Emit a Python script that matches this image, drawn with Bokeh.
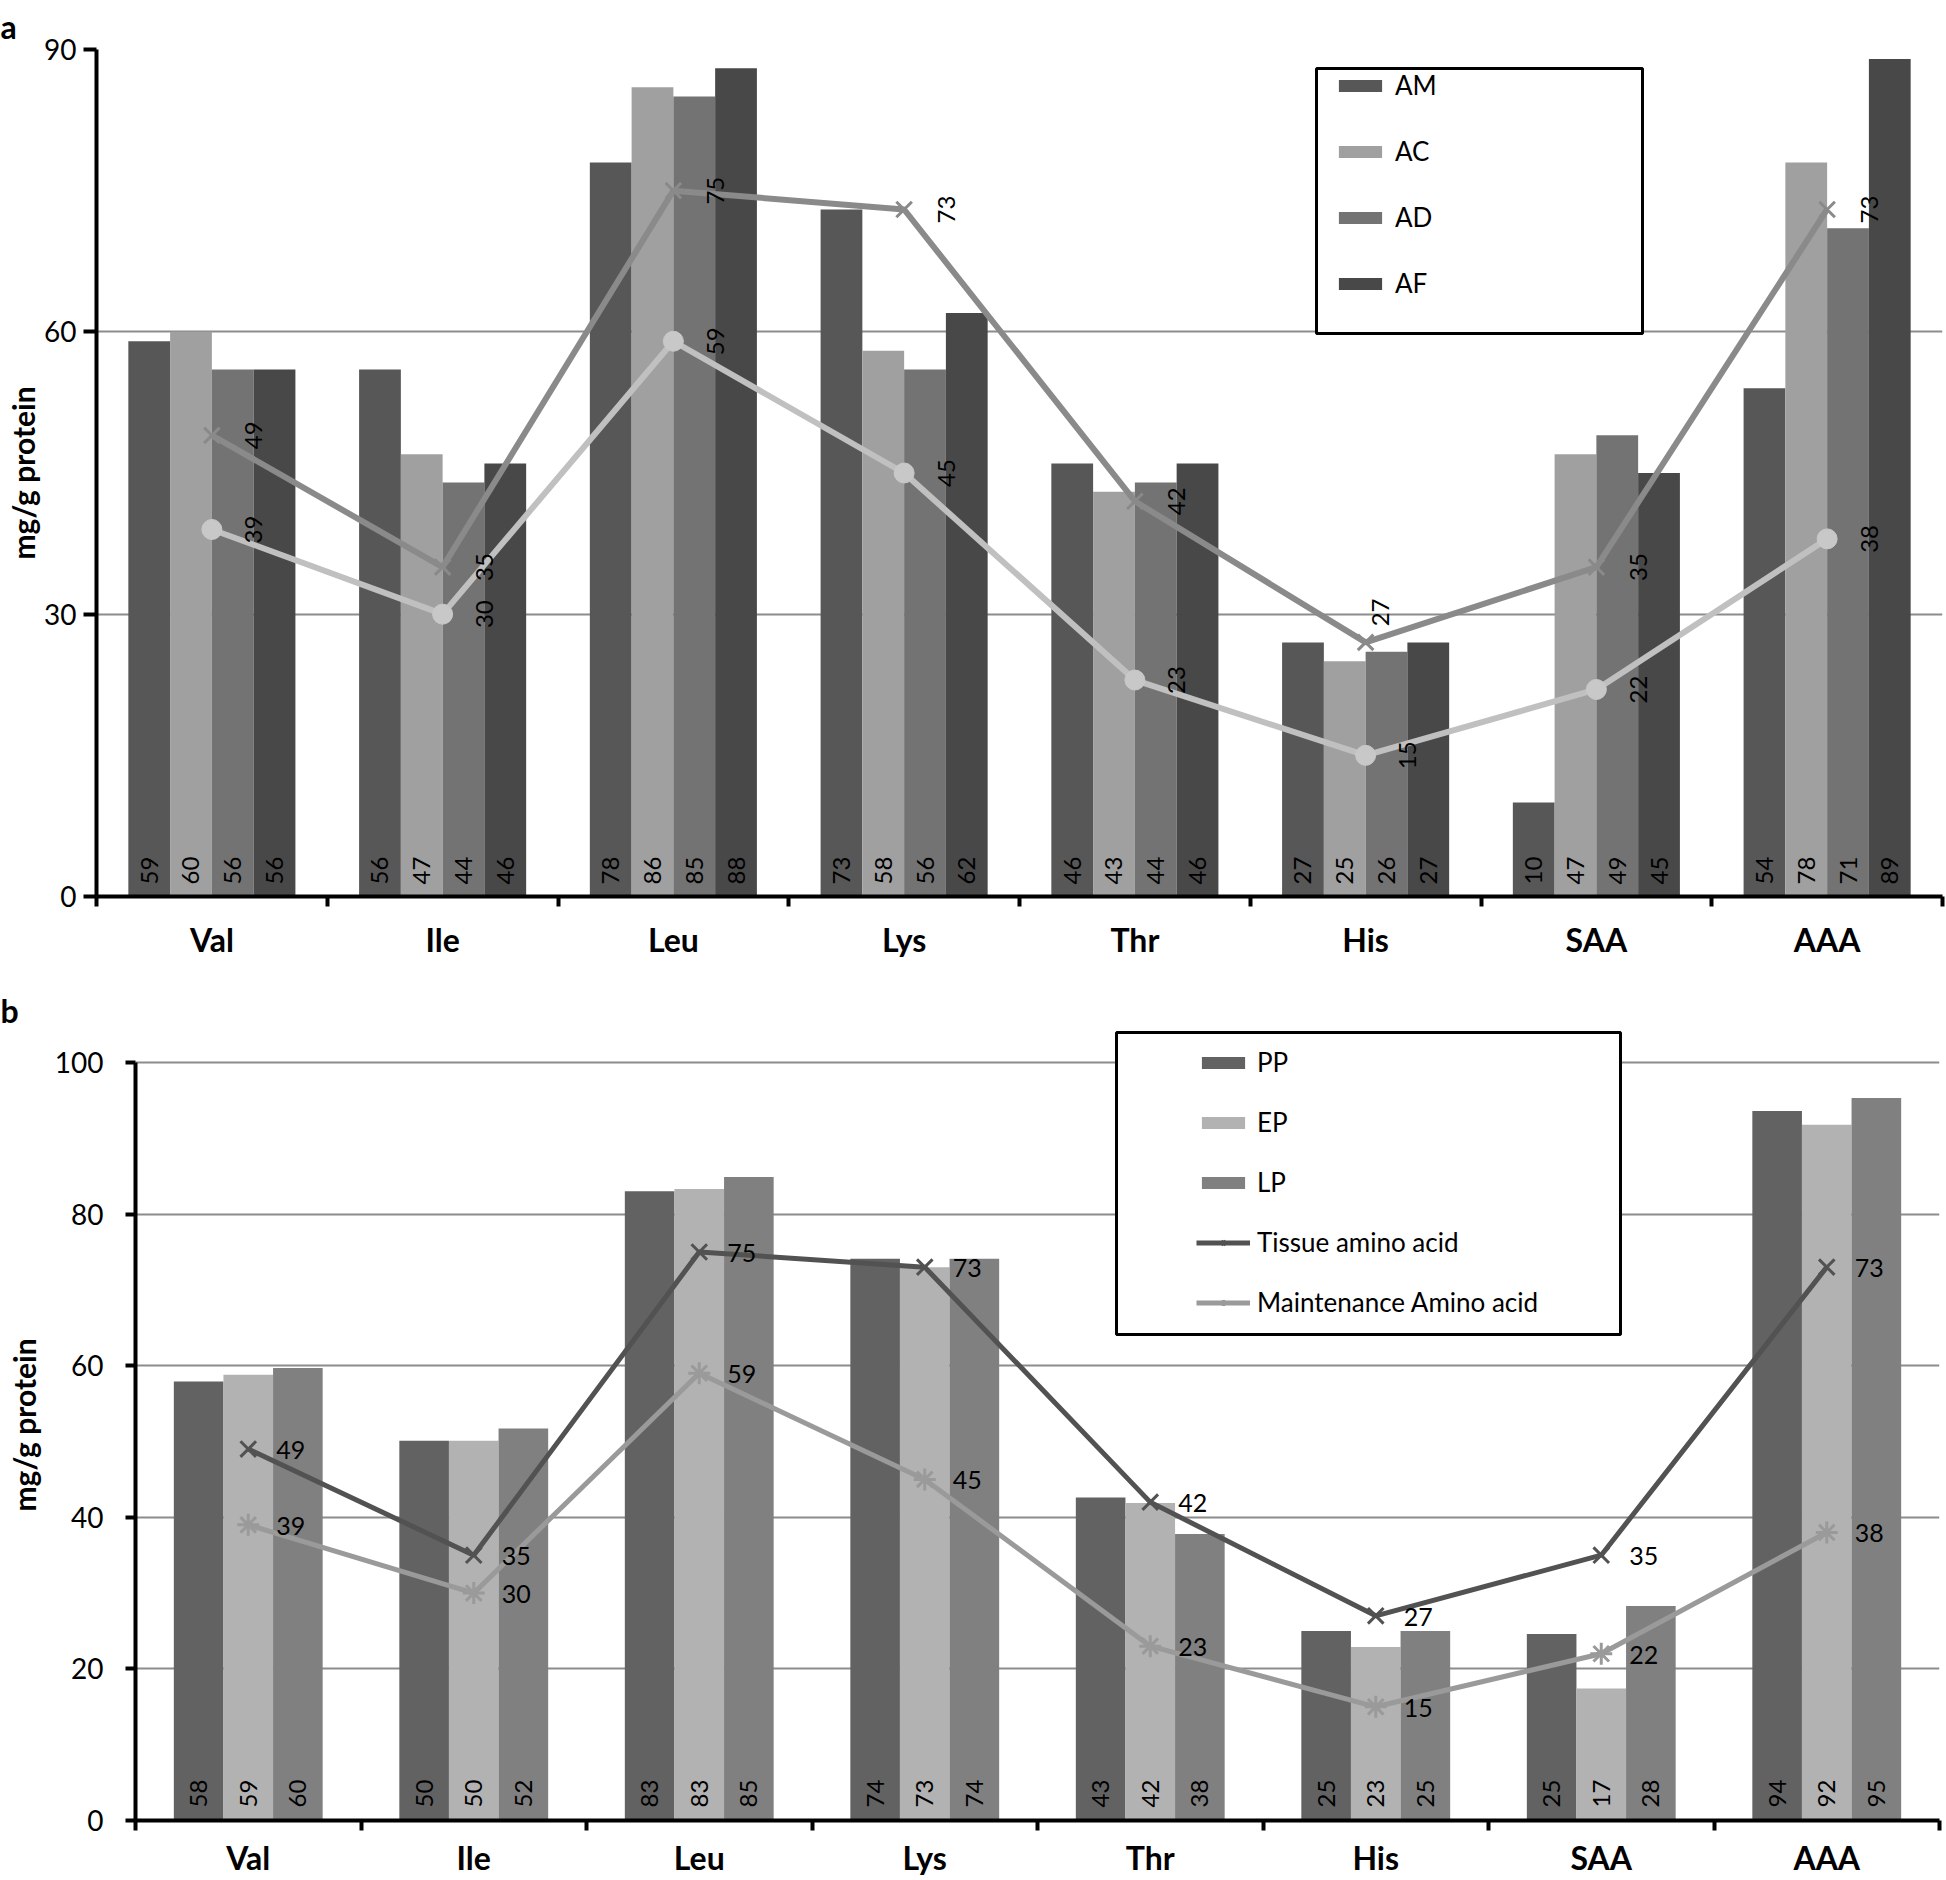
import numpy as np
from bokeh.plotting import figure
from bokeh.models import (Range1d, FixedTicker, Legend, LegendItem, BoxAnnotation, Title)
from bokeh.layouts import column
from bokeh.embed import file_html
from bokeh.resources import INLINE
from bokeh.core.properties import value

# ---------------- data ----------------
amino = ["Val", "Ile", "Leu", "Lys", "Thr", "His", "SAA", "AAA"]
tissue_aa = [49, 35, 75, 73, 42, 27, 35, 73]
maint_aa = [39, 30, 59, 45, 23, 15, 22, 38]

a_names = ["AM", "AC", "AD", "AF"]
am = [59, 56, 78, 73, 46, 27, 10, 54]
ac = [60, 47, 86, 58, 43, 25, 47, 78]
ad = [56, 44, 85, 56, 44, 26, 49, 71]
af = [56, 46, 88, 62, 46, 27, 45, 89]

b_names = ["PP", "EP", "LP"]
pp = [57.9, 50.1, 83.0, 74.1, 42.6, 25.0, 24.6, 93.6]
ep = [58.8, 50.1, 83.3, 73.0, 41.9, 22.9, 17.4, 91.8]
lp = [59.7, 51.7, 84.9, 74.1, 37.8, 25.0, 28.3, 95.3]

a_ticks = [0, 30, 60, 90]
b_ticks = [0, 20, 40, 60, 80, 100]

FONT = "Lato"
W = 1946


def base_fig(height, top, left, bottom, right, ymax, ybound, yticks, tick_out,
             label_standoff_y, axis_label_standoff, xlabel_standoff, panel_letter, letter_offset,
             letter_standoff):
    p = figure(width=W, height=height, x_range=Range1d(0, len(amino)),
               y_range=Range1d(0, ymax), output_backend="svg", toolbar_location=None,
               title=None, min_border_top=top, min_border_left=left,
               min_border_bottom=bottom, min_border_right=right)
    p.frame_align = False
    p.outline_line_color = None
    p.background_fill_color = "white"
    p.border_fill_color = "white"
    p.xgrid.visible = False
    p.ygrid.ticker = FixedTicker(ticks=yticks)
    p.ygrid.grid_line_color = "#8c8c8c"
    p.ygrid.grid_line_width = 2

    centers = [i + 0.5 for i in range(len(amino))]
    xa = p.xaxis[0]
    xa.ticker = FixedTicker(ticks=centers, minor_ticks=list(range(len(amino) + 1)))
    xa.major_label_overrides = {c: n for c, n in zip(centers, amino)}
    xa.major_tick_line_color = None
    xa.major_tick_out = 0
    xa.major_tick_in = 0
    xa.minor_tick_out = 10
    xa.minor_tick_in = 0
    xa.minor_tick_line_color = "black"
    xa.minor_tick_line_width = 4
    xa.axis_line_color = "black"
    xa.axis_line_width = 4
    xa.major_label_standoff = xlabel_standoff
    xa.major_label_text_font = FONT
    xa.major_label_text_font_size = "32px"
    xa.major_label_text_font_style = "bold"
    xa.major_label_text_color = "black"

    ya = p.yaxis[0]
    ya.ticker = FixedTicker(ticks=yticks)
    ya.bounds = (0, ybound)
    ya.minor_tick_line_color = None
    ya.major_tick_in = 0
    ya.major_tick_out = tick_out
    ya.major_tick_line_width = 4
    ya.major_tick_line_color = "black"
    ya.axis_line_width = 4
    ya.axis_line_color = "black"
    ya.major_label_standoff = label_standoff_y
    ya.major_label_text_font = FONT
    ya.major_label_text_font_size = "28px"
    ya.major_label_text_color = "black"
    ya.axis_label = "mg/g protein"
    ya.axis_label_text_font = FONT
    ya.axis_label_text_font_size = "30px"
    ya.axis_label_text_font_style = "bold"
    ya.axis_label_text_color = "black"
    ya.axis_label_standoff = axis_label_standoff

    p.add_layout(Title(text=panel_letter, align="left", offset=letter_offset,
                       standoff=letter_standoff, text_font=FONT, text_font_size="32px",
                       text_font_style="bold", text_color="black"), "above")
    return p


centers = np.arange(len(amino)) + 0.5

# ---------------- panel a ----------------
pa = base_fig(962, 48, 96, 66, 4, 90, 90, a_ticks, 13, 7, 0, 13, "a", -96, 8)
wa = 0.181
a_vals = [am, ac, ad, af]
a_cols = ["#575757", "#a0a0a0", "#737373", "#484848"]
a_bar_r = []
for k, (vals, col) in enumerate(zip(a_vals, a_cols)):
    off = (k - 1.5) * wa
    r = pa.vbar(x=centers + off, top=vals, bottom=0, width=wa, fill_color=col, line_color=None)
    a_bar_r.append(r)
    pa.text(x=centers + off, y=[0] * len(vals), text=[f"{v:.0f}" for v in vals], angle=np.pi / 2,
            text_align="left", text_baseline="middle", y_offset=-12,
            text_font=value(FONT), text_font_size="24px", text_color="black")

pa.line(centers, maint_aa, line_color="#c0c0c0", line_width=6)
pa.line(centers, tissue_aa, line_color="#8a8a8a", line_width=6)
pa.scatter(centers, tissue_aa, marker="x", size=22, line_color="#8a8a8a", line_width=3)
pa.scatter(centers, maint_aa, marker="circle", size=20, fill_color="#c8c8c8", line_color="#c8c8c8")

a_lab_dx = [42, 42, 42, 42, 42, 15, 42, 42]
a_lab_dy = [0, 0, 0, 0, 0, -30, 0, 0]
pa.text(x=centers, y=tissue_aa, text=[str(v) for v in tissue_aa], angle=np.pi / 2,
        x_offset=a_lab_dx, y_offset=a_lab_dy, text_align="center", text_baseline="middle",
        text_font=value(FONT), text_font_size="24px", text_color="black")
pa.text(x=centers, y=maint_aa, text=[str(v) for v in maint_aa], angle=np.pi / 2,
        x_offset=42, text_align="center", text_baseline="middle",
        text_font=value(FONT), text_font_size="24px", text_color="black")

pa.add_layout(BoxAnnotation(left=1220, right=1546, bottom=563, top=828,
                            left_units="screen", right_units="screen",
                            bottom_units="screen", top_units="screen",
                            fill_color="white", fill_alpha=1, line_color="black",
                            line_width=3, line_alpha=1))
leg_a = Legend(items=[LegendItem(label=n, renderers=[r]) for n, r in zip(a_names, a_bar_r)],
               location=(1237, 597), orientation="vertical", padding=0, margin=0,
               spacing=34, label_height=32, glyph_height=15, glyph_width=54,
               label_standoff=8, border_line_alpha=0, background_fill_alpha=0,
               label_text_font=FONT, label_text_font_size="26px", label_text_color="black")
pa.add_layout(leg_a)

# ---------------- panel b ----------------
# frame extends a little above 100 so that the legend box (which sticks out above) is drawn
pb = base_fig(918, 67, 135, 60, 7, 104.35, 100, b_ticks, 10, 22, 10, 7, "b", -135, 0)
wb = 0.22
b_vals = [pp, ep, lp]
b_cols = ["#626262", "#b2b2b2", "#808080"]
b_bar_r = []
for k, (vals, col) in enumerate(zip(b_vals, b_cols)):
    off = (k - 1) * wb
    r = pb.vbar(x=centers + off, top=vals, bottom=0, width=wb, fill_color=col, line_color=None)
    b_bar_r.append(r)
    pb.text(x=centers + off, y=[0] * len(vals), text=[f"{v:.0f}" for v in vals], angle=np.pi / 2,
            text_align="left", text_baseline="middle", y_offset=-13,
            text_font=value(FONT), text_font_size="24px", text_color="black")

t_line = pb.line(centers, tissue_aa, line_color="#525252", line_width=5)
t_mark = pb.scatter(centers, tissue_aa, marker="x", size=22, line_color="#525252", line_width=3)
m_line = pb.line(centers, maint_aa, line_color="#9a9a9a", line_width=5)
m_mark = pb.scatter(centers, maint_aa, marker="asterisk", size=22, line_color="#9a9a9a", line_width=3)

pb.text(x=centers, y=tissue_aa, text=[str(v) for v in tissue_aa], x_offset=28, y_offset=1,
        text_align="left", text_baseline="middle",
        text_font=value(FONT), text_font_size="25px", text_color="black")
pb.text(x=centers, y=maint_aa, text=[str(v) for v in maint_aa], x_offset=28, y_offset=1,
        text_align="left", text_baseline="middle",
        text_font=value(FONT), text_font_size="25px", text_color="black")

pb.add_layout(BoxAnnotation(left=981, right=1485, bottom=486, top=788,
                            left_units="screen", right_units="screen",
                            bottom_units="screen", top_units="screen",
                            fill_color="white", fill_alpha=1, line_color="black",
                            line_width=3, line_alpha=1))
b_items = [LegendItem(label=n, renderers=[r]) for n, r in zip(b_names, b_bar_r)]
b_items.append(LegendItem(label="Tissue amino acid", renderers=[t_line, t_mark]))
b_items.append(LegendItem(label="Maintenance Amino acid", renderers=[m_line, m_mark]))
leg_b = Legend(items=b_items, location=(1061, 502), orientation="vertical", padding=0, margin=0,
               spacing=28, label_height=32, glyph_height=15, glyph_width=54,
               label_standoff=7, border_line_alpha=0, background_fill_alpha=0,
               label_text_font=FONT, label_text_font_size="26px", label_text_color="black")
pb.add_layout(leg_b)

layout = column(pa, pb, spacing=0)
open("out.html", "w").write(file_html(layout, INLINE))
